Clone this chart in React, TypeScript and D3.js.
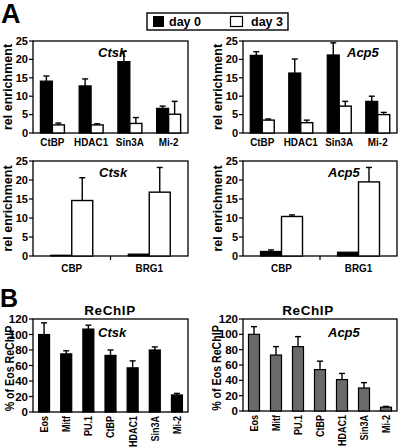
import React from "react";
import * as d3 from "d3";

const FONT = "'Liberation Sans', Arial, Helvetica, sans-serif";

// Panel A top
const catsTop = ["CtBP", "HDAC1", "Sin3A", "Mi-2"];
const ctskTopDay0 = [14.1, 12.8, 19.4, 6.7];
const ctskTopDay0Err = [1.4, 1.9, 2.8, 0.6];
const ctskTopDay3 = [2.2, 2.2, 2.6, 5.1];
const ctskTopDay3Err = [0.5, 0.3, 1.6, 3.5];
const acp5TopDay0 = [21.1, 16.3, 21.2, 8.6];
const acp5TopDay0Err = [1.0, 3.8, 3.3, 1.4];
const acp5TopDay3 = [3.5, 2.8, 7.3, 5.0];
const acp5TopDay3Err = [0.3, 0.7, 1.3, 0.6];

// Panel A bottom
const catsBottom = ["CBP", "BRG1"];
const ctskBotDay0 = [0.2, 0.5];
const ctskBotDay0Err = [0, 0];
const ctskBotDay3 = [14.6, 16.8];
const ctskBotDay3Err = [6.0, 6.5];
const acp5BotDay0 = [1.2, 1.0];
const acp5BotDay0Err = [0.4, 0];
const acp5BotDay3 = [10.4, 19.5];
const acp5BotDay3Err = [0.4, 3.8];

const ticksA = [0, 5, 10, 15, 20, 25];

// Panel B
const catsB = ["Eos", "Mitf", "PU.1", "CtBP", "HDAC1", "Sin3A", "Mi-2"];
const ctskB = [100, 75, 107, 73, 57, 80, 22];
const ctskBErr = [15, 4, 5, 7, 9, 4, 2];
const acp5B = [100, 73, 84, 54, 41, 30, 5];
const acp5BErr = [10, 11, 13, 11, 8, 7, 1];
const ticksB = [0, 20, 40, 60, 80, 100, 120];

type GP = {
  x0: number; x1: number; y0: number; y1: number;
  max: number; ticks: number[]; cats: string[];
  d0: number[]; e0: number[]; d3v: number[]; e3: number[];
  barW: number; gene: string; geneX: number; geneY: number;
  catTicks?: boolean; labelY: number; titleX: number;
};

function ErrBar({ x, yTop, yErr }: { x: number; yTop: number; yErr: number }) {
  if (Math.abs(yTop - yErr) < 0.5) return null;
  return (
    <g stroke="#000" strokeWidth={1.4}>
      <line x1={x} x2={x} y1={yTop} y2={yErr} />
      <line x1={x - 3} x2={x + 3} y1={yErr} y2={yErr} />
    </g>
  );
}

function YAxis({ x0, y, ticks, fs }: { x0: number; y: d3.ScaleLinear<number, number>; ticks: number[]; fs: number }) {
  return (
    <g>
      {ticks.map((t) => (
        <g key={t}>
          <line x1={x0 - 4} x2={x0} y1={y(t)} y2={y(t)} stroke="#000" strokeWidth={1.2} />
          <text x={x0 - 5} y={y(t)} dy="0.35em" textAnchor="end" fontSize={fs} fontWeight="bold" fontFamily={FONT}>{t}</text>
        </g>
      ))}
    </g>
  );
}

function GroupedPanel(p: GP) {
  const x = d3.scaleBand().domain(p.cats).range([p.x0, p.x1]);
  const y = d3.scaleLinear().domain([0, p.max]).range([p.y1, p.y0]);
  const yc = (p.y0 + p.y1) / 2;
  return (
    <g>
      <rect x={p.x0} y={p.y0} width={p.x1 - p.x0} height={p.y1 - p.y0} fill="none" stroke="#000" strokeWidth={1.3} />
      <YAxis x0={p.x0} y={y} ticks={p.ticks} fs={11} />
      {p.catTicks && d3.range(1, p.cats.length).map((i) => (
        <line key={i} x1={p.x0 + i * x.step()} x2={p.x0 + i * x.step()} y1={p.y1} y2={p.y1 + 4} stroke="#000" strokeWidth={1.2} />
      ))}
      {p.cats.map((c, i) => {
        const cx = (x(c) as number) + x.bandwidth() / 2;
        return (
          <g key={c}>
            <rect x={cx - p.barW} y={y(p.d0[i])} width={p.barW} height={y(0) - y(p.d0[i])} fill="#000" stroke="#000" strokeWidth={1.2} />
            <rect x={cx} y={y(p.d3v[i])} width={p.barW} height={y(0) - y(p.d3v[i])} fill="#fff" stroke="#000" strokeWidth={1.4} />
            <ErrBar x={cx - p.barW / 2} yTop={y(p.d0[i])} yErr={y(p.d0[i] + p.e0[i])} />
            <ErrBar x={cx + p.barW / 2} yTop={y(p.d3v[i])} yErr={y(p.d3v[i] + p.e3[i])} />
            <text transform={`translate(${cx},${p.labelY}) scale(0.86,1)`} textAnchor="middle" fontSize={11.5} fontWeight="bold" fontFamily={FONT}>{c}</text>
          </g>
        );
      })}
      <text x={p.geneX} y={p.geneY} fontSize={13} fontWeight="bold" fontStyle="italic" fontFamily={FONT}>{p.gene}</text>
      <text transform={`translate(${p.titleX},${yc}) rotate(-90)`} textAnchor="middle" fontSize={12.5} fontWeight="bold" fontFamily={FONT}>rel enrichment</text>
    </g>
  );
}

type BP = {
  x0: number; x1: number; y0: number; y1: number;
  vals: number[]; errs: number[]; fill: string; gene: string; geneX: number; geneY: number;
  titleX: number; headX: number;
};

function ReChIPPanel(p: BP) {
  const x = d3.scaleBand().domain(catsB).range([p.x0, p.x1]);
  const y = d3.scaleLinear().domain([0, 120]).range([p.y1, p.y0]);
  const bw = 11;
  const yc = (p.y0 + p.y1) / 2 + 3;
  return (
    <g>
      <rect x={p.x0} y={p.y0} width={p.x1 - p.x0} height={p.y1 - p.y0} fill="none" stroke="#000" strokeWidth={1.3} />
      <YAxis x0={p.x0} y={y} ticks={ticksB} fs={11.5} />
      {catsB.map((c, i) => {
        const cx = (x(c) as number) + x.bandwidth() / 2;
        return (
          <g key={c}>
            <rect x={cx - bw / 2} y={y(p.vals[i])} width={bw} height={y(0) - y(p.vals[i])} fill={p.fill} stroke="#000" strokeWidth={1.2} />
            <ErrBar x={cx} yTop={y(p.vals[i])} yErr={y(p.vals[i] + p.errs[i])} />
            <text transform={`translate(${cx},${p.y1 + 4}) rotate(-90) scale(0.82,1)`} dy="0.35em" textAnchor="end" fontSize={11} fontWeight="bold" fontFamily={FONT}>{c}</text>
          </g>
        );
      })}
      <text x={p.geneX} y={p.geneY} fontSize={13} fontWeight="bold" fontStyle="italic" fontFamily={FONT}>{p.gene}</text>
      <text x={p.headX} y={p.y0 - 4} textAnchor="middle" fontSize={13.5} fontWeight="bold" letterSpacing={0.6} fontFamily={FONT}>ReChIP</text>
      <text transform={`translate(${p.titleX},${yc}) rotate(-90) scale(0.85,1)`} textAnchor="middle" fontSize={12.5} fontWeight="bold" fontFamily={FONT}>% of Eos ReChIP</text>
    </g>
  );
}

export default function App() {
  return (
    <svg width={400} height={447} style={{ position: "absolute", left: 0, top: 0, background: "#fff" }}>
      <rect width={400} height={447} fill="#fff" />
      <text x={1} y={23} fontSize={27} fontWeight="bold" fontFamily={FONT}>A</text>
      <text x={0} y={307} fontSize={25} fontWeight="bold" fontFamily={FONT}>B</text>

      {/* legend */}
      <rect x={147} y={13} width={141} height={17} fill="#fff" stroke="#000" strokeWidth={1.4} />
      <rect x={153} y={16} width={11} height={11} fill="#000" />
      <text x={169} y={26} fontSize={12.5} fontWeight="bold" fontFamily={FONT}>day 0</text>
      <rect x={230.5} y={16.5} width={12} height={10} fill="#fff" stroke="#000" strokeWidth={1.2} />
      <text x={251} y={26} fontSize={12.5} fontWeight="bold" fontFamily={FONT}>day 3</text>

      <GroupedPanel x0={33} x1={188} y0={41} y1={133} max={25} ticks={ticksA} cats={catsTop}
        d0={ctskTopDay0} e0={ctskTopDay0Err} d3v={ctskTopDay3} e3={ctskTopDay3Err}
        barW={12} gene="Ctsk" geneX={98} geneY={57} labelY={146} titleX={12} />
      <GroupedPanel x0={243} x1={397} y0={41} y1={133} max={25} ticks={ticksA} cats={catsTop}
        d0={acp5TopDay0} e0={acp5TopDay0Err} d3v={acp5TopDay3} e3={acp5TopDay3Err}
        barW={12} gene="Acp5" geneX={347} geneY={57} labelY={146} titleX={222} />
      <GroupedPanel x0={33} x1={188} y0={161} y1={256} max={25} ticks={ticksA} cats={catsBottom}
        d0={ctskBotDay0} e0={ctskBotDay0Err} d3v={ctskBotDay3} e3={ctskBotDay3Err}
        barW={21} gene="Ctsk" geneX={99} geneY={177} labelY={272} titleX={12} catTicks />
      <GroupedPanel x0={243} x1={397} y0={161} y1={256} max={25} ticks={ticksA} cats={catsBottom}
        d0={acp5BotDay0} e0={acp5BotDay0Err} d3v={acp5BotDay3} e3={acp5BotDay3Err}
        barW={21} gene="Acp5" geneX={328} geneY={177} labelY={272} titleX={222} catTicks />

      <ReChIPPanel x0={33} x1={188} y0={319} y1={412} vals={ctskB} errs={ctskBErr} fill="#000"
        gene="Ctsk" geneX={98} geneY={337} titleX={14} headX={110} />
      <ReChIPPanel x0={243} x1={397} y0={319} y1={411} vals={acp5B} errs={acp5BErr} fill="#6a6a6a"
        gene="Acp5" geneX={328} geneY={337} titleX={221} headX={308} />
    </svg>
  );
}
